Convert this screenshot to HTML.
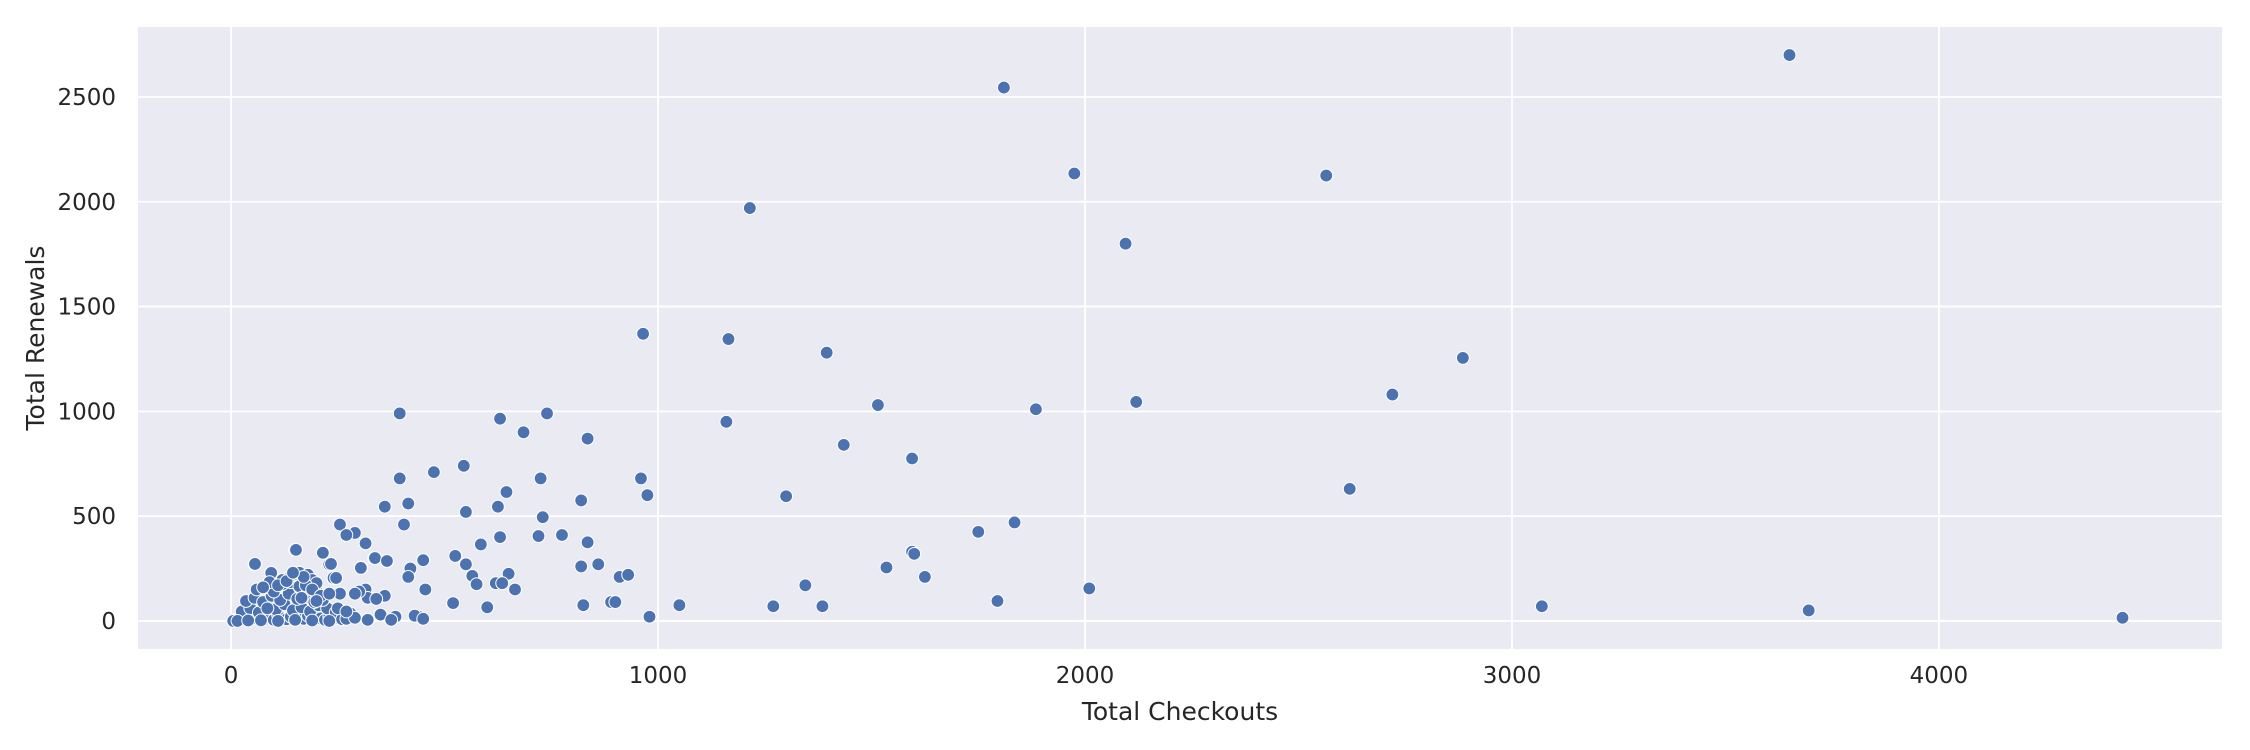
<!DOCTYPE html>
<html><head><meta charset="utf-8">
<style>
html,body{margin:0;padding:0;background:#fff;}
svg{display:block;font-family:"DejaVu Sans","Liberation Sans",sans-serif;}
</style></head>
<body>
<svg id="chart" width="2250" height="750" xmlns="http://www.w3.org/2000/svg"></svg>
<script>
const xTicks=[0,1000,2000,3000,4000];
const yTicks=[0,500,1000,1500,2000,2500];
const checkouts=[3650,1810,1975,2565,1215,2095,965,1165,1395,2885,2720,2120,1515,1885,395,740,630,1160,685,835,1435,1595,545,475,395,725,960,2620,645,975,1300,820,415,360,625,550,730,1835,255,405,1750,290,270,720,775,630,835,315,585,1595,1600,150,215,335,450,365,525,550,860,55,230,820,1535,305,420,415,565,240,910,930,1625,2010,1345,665,455,575,620,650,635,1795,520,600,825,890,900,1050,1270,1385,3070,3695,4430,980,440,430,450,320,350,385,375,280,360,315,320,340,300,290,255,
152,215,234,304,337,365,246,94,56,
10,20,30,40,50,60,70,80,90,100,110,120,130,140,150,160,170,180,190,200,210,220,230,240,250,
25,45,65,85,105,125,145,165,185,205,225,245,
35,55,75,95,115,135,155,175,195,215,
60,80,100,120,140,160,180,200,
5,15,40,70,110,150,190,230,260,270,290,
130,140,150,160,170,180,190,200,175,120,90,75,
110,130,170,190,210,85,145,165,200,230,250,270];
const renewals=[2700,2545,2135,2125,1970,1800,1370,1345,1280,1255,1080,1045,1030,1010,990,990,965,950,900,870,840,775,740,710,680,680,680,630,615,600,595,575,560,545,545,520,495,470,460,460,425,420,410,405,410,400,375,370,365,330,320,340,330,300,290,285,310,270,270,270,270,260,255,255,250,210,215,205,210,220,210,155,170,150,150,175,180,225,180,95,85,65,75,90,90,75,70,70,70,50,15,20,20,25,10,5,30,20,5,35,120,150,110,105,140,130,130,
339,325,272,253,300,286,205,229,272,
5,10,15,8,20,12,25,10,18,5,30,12,8,20,5,15,10,25,8,18,12,5,20,10,15,
45,60,40,70,55,80,50,65,45,75,60,40,
95,110,90,120,100,130,105,115,90,100,
150,160,140,175,185,165,150,140,
0,0,2,3,0,5,2,0,8,10,15,
200,215,225,230,210,220,195,180,170,195,185,160,
170,190,210,150,120,60,230,110,95,130,60,45];

const svg=document.getElementById('chart');
const NS='http://www.w3.org/2000/svg';
const L=138,T=27,R=2222,B=649;
const xMin=-218,xMax=4663,yMin=-134,yMax=2834;
function sx(v){return L+(v-xMin)/(xMax-xMin)*(R-L);}
function sy(v){return B-(v-yMin)/(yMax-yMin)*(B-T);}
function mk(tag,attrs){const e=document.createElementNS(NS,tag);for(const k in attrs)e.setAttribute(k,attrs[k]);svg.appendChild(e);return e;}

const bg=mk('rect',{x:L,y:T,width:R-L,height:B-T,fill:'#eaeaf2'});



xTicks.forEach(t=>{
  const g=mk('line',{x1:sx(t),x2:sx(t),y1:T,y2:B,stroke:'#fff','stroke-width':1.8});
  
  
  const tx=mk('text',{x:sx(t),y:B+34,'text-anchor':'middle','font-size':23,fill:'#262626'});
  tx.textContent=t;
  
  
});
yTicks.forEach(t=>{
  const g=mk('line',{x1:L,x2:R,y1:sy(t),y2:sy(t),stroke:'#fff','stroke-width':1.8});
  
  
  const tx=mk('text',{x:L-22,y:sy(t)+8,'text-anchor':'end','font-size':23,fill:'#262626'});
  tx.textContent=t;
  
  
});

checkouts.forEach((c,i)=>{
  const p=mk('circle',{cx:sx(c),cy:sy(renewals[i]),r:6.4,fill:'#4c72b0',stroke:'#fff','stroke-width':1});
  
  
});

const xl=mk('text',{x:(L+R)/2,y:720,'text-anchor':'middle','font-size':25,fill:'#262626'});
xl.textContent='Total Checkouts';


const yl=mk('text',{x:0,y:0,'text-anchor':'middle','font-size':25,fill:'#262626',transform:`translate(44,${(T+B)/2}) rotate(-90)`});
yl.textContent='Total Renewals';


</script>
</body></html>
